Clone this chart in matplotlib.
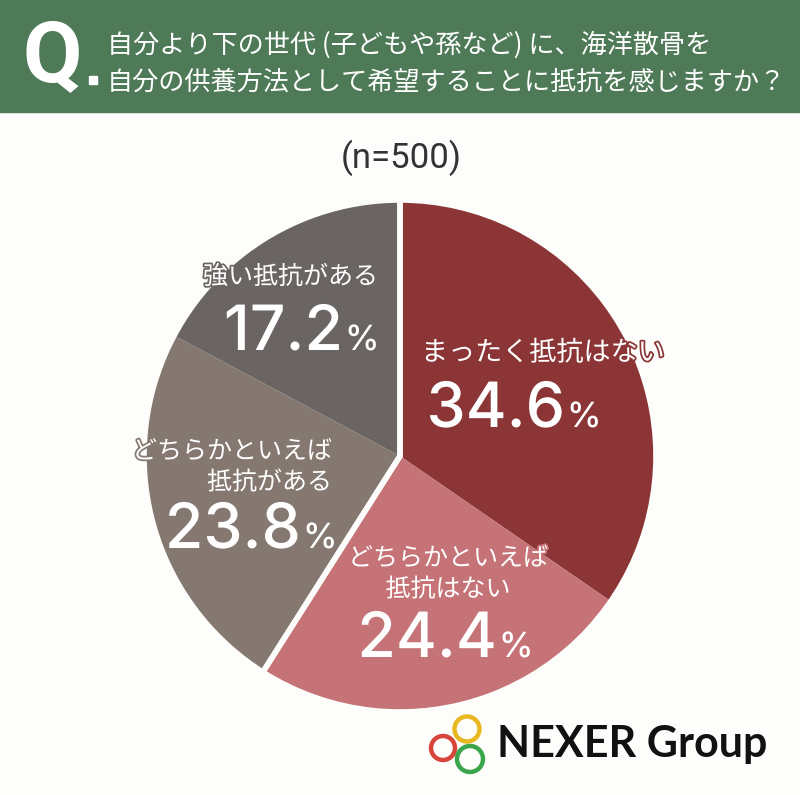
import matplotlib
matplotlib.use("Agg")
import matplotlib.pyplot as plt
import matplotlib.patheffects as pe
from matplotlib.patches import Rectangle, Circle

plt.rcParams['font.family'] = ['Noto Sans CJK JP', 'DejaVu Sans']

# data
labels = ["まったく抵抗はない", "どちらかといえば\n抵抗はない", "どちらかといえば\n抵抗がある", "強い抵抗がある"]
values = [34.6, 24.4, 23.8, 17.2]
colors = ["#8B3536", "#C57376", "#857870", "#6A6563"]
title_lines = ["自分より下の世代 (子どもや孫など) に、海洋散骨を",
               "自分の供養方法として希望することに抵抗を感じますか？"]
n_text = "(n=500)"

W, H = 800, 795
bg = "#FDFEFB"

fig = plt.figure(figsize=(W / 100, H / 100), dpi=100, facecolor=bg)
ax = fig.add_axes([0, 0, 1, 1])
ax.set_facecolor(bg)


def Y(y):
    # pixel row from top -> data y
    return H - y


# pie
cx, cy, r = 400, 456, 256
ax.pie(values, colors=colors, startangle=90, counterclock=False,
       center=(cx, Y(cy)), radius=r,
       wedgeprops=dict(linewidth=0))
# white gaps only between the "no resistance" and "resistance" groups
groups = [values[0] + values[1], values[2] + values[3]]
ax.pie(groups, colors=['none', 'none'], startangle=90, counterclock=False,
       center=(cx, Y(cy)), radius=r,
       wedgeprops=dict(edgecolor=bg, linewidth=4, fill=False))
ax.set_xlim(0, W)
ax.set_ylim(0, H)
ax.set_aspect('equal')
ax.axis('off')

# header
ax.add_patch(Rectangle((0, Y(112)), W, 112, color="#4E7A57", zorder=5))
ax.text(22, Y(58), "Q", color="white", fontsize=62, fontweight='bold',
        family='Roboto', ha='left', va='center', zorder=6)
ax.add_patch(Rectangle((89, Y(84)), 8, 8, color="white", zorder=6))
ax.text(107, Y(45), title_lines[0], color="white", fontsize=18.8,
        ha='left', va='center', zorder=6)
ax.text(107, Y(82), title_lines[1], color="white", fontsize=18.8,
        ha='left', va='center', zorder=6)

ax.text(401, Y(158), n_text, color="#333333", fontsize=25,
        family=['Roboto', 'DejaVu Sans'], ha='center', va='center')

# labels: (label x, label y, align, font size, split x, number baseline)
label_pos = [
    (421, 353, 'left', 19.5, 565, 427),
    (448, 574, 'center', 18, 497, 657),
    (332, 467, 'right', 18, 301, 548),
    (378, 277, 'right', 18, 343, 350),
]
for lab, val, col, (lx, ly, ha, fs, sx, by) in zip(labels, values, colors, label_pos):
    stroke = [pe.withStroke(linewidth=2.5, foreground=col)]
    ax.text(lx, Y(ly), lab, color="white", fontsize=fs, ha=ha, va='center',
            linespacing=1.25, path_effects=stroke, zorder=4)
    ax.text(sx, Y(by), f"{val:.1f}", color="white", fontsize=45,
            family='Inter', fontweight='medium', ha='right', va='baseline',
            path_effects=stroke, zorder=4)
    ax.text(sx + 2, Y(by), "%", color="white", fontsize=25,
            family='Inter', fontweight='medium', ha='left', va='baseline',
            path_effects=stroke, zorder=4)

# logo
for (lx, ly, lr, lc) in [(467, 729, 12.5, "#E9B820"), (443, 748, 12, "#D8443A"),
                         (470, 759, 13, "#3BA54B")]:
    ax.add_patch(Circle((lx, Y(ly)), lr, fill=False, edgecolor=lc, linewidth=3.2, zorder=6))
ax.text(497, Y(757), "NEXER Group", color="#111111", fontsize=31,
        family='Lato', fontweight='bold', ha='left', va='baseline', zorder=6)

fig.savefig("out.png", dpi=100, facecolor=bg)
